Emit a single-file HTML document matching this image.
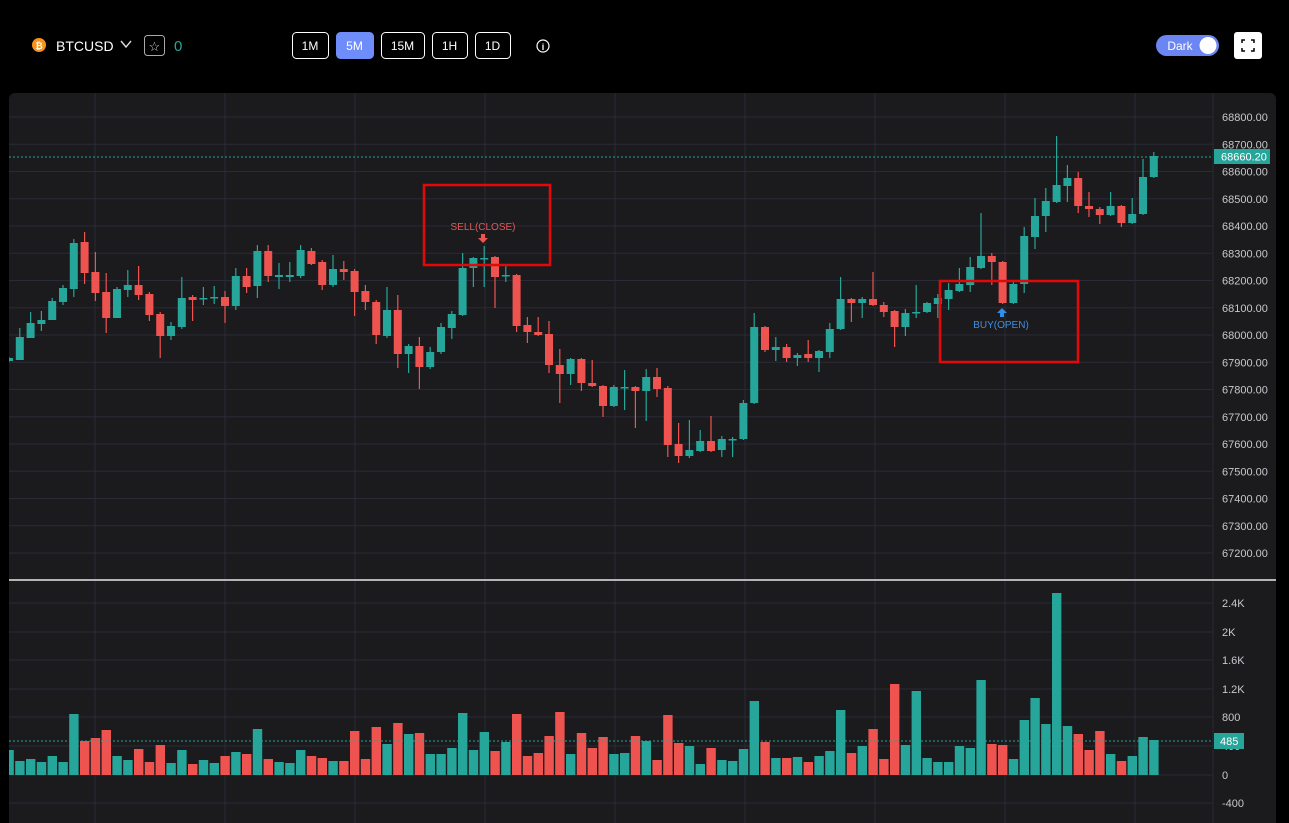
<!DOCTYPE html>
<html><head><meta charset="utf-8"><style>
html,body{margin:0;padding:0;background:#000;width:1289px;height:823px;overflow:hidden;font-family:"Liberation Sans",sans-serif}
svg{position:absolute;left:0;top:0}
</style></head><body>
<svg id="s" width="1289" height="823" xmlns="http://www.w3.org/2000/svg"></svg>
<script>
const C=[
['g',358,361,357,362],['g',337,360,328,360],['g',323,338,312,338],['g',320,324,311,331],['g',301,320,298,320],['g',288,302,285,305],
['g',243,289,239,297],['r',242,273,232,284],['r',272,293,252,301],['r',292,318,273,333],['g',289,318,287,318],['g',285,290,270,297],
['r',285,295,266,300],['r',294,315,292,321],['r',314,336,312,358],['g',326,336,322,340],['g',298,327,277,329],['r',297,300,295,321],
['g',298,299,287,305],['g',297,298,286,304],['r',297,306,291,323],['g',276,306,268,310],['r',276,287,268,293],['g',251,286,245,298],
['r',251,276,245,282],['g',275,277,263,289],['g',275,277,262,282],['g',250,276,245,278],['r',251,264,248,265],['r',262,285,260,290],
['g',269,285,255,287],['r',269,272,261,280],['r',271,292,269,316],['r',291,302,285,310],['r',302,335,300,344],['g',310,336,287,338],
['r',310,354,295,368],['g',346,354,344,373],['r',346,367,337,389],['g',352,367,347,369],['g',327,352,323,354],['g',314,328,311,339],
['g',268,315,253,316],['g',258,268,257,287],['g',258,259,246,287],['r',257,277,256,308],['g',275,276,266,282],['r',275,326,274,332],
['r',325,332,317,343],['r',332,335,317,336],['r',334,365,321,373],['r',365,374,349,403],['g',359,374,358,385],['r',359,383,358,391],
['r',383,386,360,387],['r',386,406,385,417],['g',387,406,385,407],['g',387,388,370,410],['r',387,391,386,428],['g',377,391,369,421],
['r',377,389,368,397],['r',388,445,386,457],['r',444,456,423,463],['g',450,456,420,458],['g',441,451,430,452],['r',441,451,416,452],
['g',439,450,436,457],['g',439,440,437,457],['g',403,439,400,440],['g',327,403,313,404],['r',327,350,326,352],['g',347,350,337,361],
['r',347,358,344,362],['g',355,358,353,366],['r',354,358,340,362],['g',351,358,350,372],['g',329,352,323,358],['g',299,329,277,330],
['r',299,303,298,322],['g',299,303,297,318],['r',299,305,272,306],['r',305,312,302,317],['r',311,327,310,347],['g',313,327,309,336],
['g',312,313,285,318],['g',303,312,302,313],['g',298,304,294,318],['g',290,299,283,310],['g',284,291,268,292],['g',267,285,257,292],
['g',256,268,213,269],['r',256,262,253,285],['r',262,303,261,304],['g',284,303,282,304],['g',236,284,227,293],['g',216,237,198,249],
['g',201,216,188,232],['g',185,202,136,203],['g',178,186,165,202],['r',178,206,172,213],['r',206,209,192,217],['r',209,215,207,224],
['g',206,215,192,216],['r',206,223,205,227],['g',214,223,198,224],['g',177,214,159,215],['g',156,177,152,178]];
const V=[750,761,759,762,756,762,714,741,738,730,756,760,749,762,745,763,750,764,760,763,756,752,754,729,759,762,763,750,756,758,761,761,731,759,727,744,723,734,733,754,754,748,713,750,732,751,742,714,756,753,736,712,754,733,748,737,754,753,736,741,760,715,743,746,764,748,760,761,749,701,742,758,758,757,762,756,751,710,753,746,729,759,684,745,691,758,762,762,746,748,680,744,745,759,720,698,724,593,726,734,750,731,754,761,756,737,740];
const G='#26a69a',R='#ef5350',GR='#2a2b38';
let h='<defs><clipPath id="cp"><rect x="9" y="93" width="1204" height="730"/></clipPath></defs>';
h+=`<circle cx="39" cy="45" r="7" fill="#f7931a"/><text x="39" y="49" font-size="9" fill="#fff" text-anchor="middle" font-weight="bold">₿</text>
<text x="56" y="51" font-size="14" fill="#fff">BTCUSD</text>
<path d="M121 41 L126 47 L131 41" stroke="#ddd" stroke-width="1.4" fill="none"/>
<rect x="144.5" y="35.5" width="20" height="20" rx="3" fill="none" stroke="#aaa"/>
<text x="154.5" y="51" font-size="13" fill="#ccc" text-anchor="middle">☆</text>
<text x="174" y="51" font-size="15" fill="#26a69a">0</text>`;
const B=[['1M',292,328],['5M',336,373],['15M',381,424],['1H',432,467],['1D',475,510]];
for(const [t,a,b] of B){const act=t=='5M';
h+=`<rect x="${a+.5}" y="32.5" width="${b-a}" height="26" rx="4" fill="${act?'#6f8dfa':'#000'}" stroke="${act?'#6f8dfa':'#fff'}"/><text x="${(a+b)/2}" y="50" font-size="12" fill="#fff" text-anchor="middle">${t}</text>`;}
h+=`<circle cx="543" cy="46" r="6" fill="none" stroke="#fff" stroke-width="1.2"/><text x="543" y="50" font-size="9" fill="#fff" text-anchor="middle" font-weight="bold">i</text>
<rect x="1156" y="35" width="63" height="21" rx="10.5" fill="#6b85f2"/><text x="1180" y="50" font-size="12" fill="#fff" text-anchor="middle">Dark</text><circle cx="1208" cy="45.5" r="8.5" fill="#fff"/>
<rect x="1234" y="32" width="28" height="27" rx="3" fill="#fff"/>
<path d="M1242 43v-3h3M1254 43v-3h-3M1242 48v3h3M1254 48v3h-3" stroke="#000" stroke-width="1.5" fill="none"/>`;
h+=`<path d="M9 823 V99 a6 6 0 0 1 6 -6 H1270 a6 6 0 0 1 6 6 V823Z" fill="#1b1b1d"/>`;
for(let k=0;k<17;k++){const y=117+k*27.25;h+=`<line x1="9" x2="1213" y1="${y}" y2="${y}" stroke="${GR}"/>`;
 h+=`<text x="1222" y="${y+4}" font-size="11" fill="#c8c8cc">${(68800-k*100).toFixed(2)}</text>`;}
[603,632,660,689,717,746,775,803].forEach((y,i)=>{h+=`<line x1="9" x2="1213" y1="${y}" y2="${y}" stroke="${GR}"/>`;
 const l=['2.4K','2K','1.6K','1.2K','800','400','0','-400'][i];h+=`<text x="1222" y="${y+4}" font-size="11" fill="#c8c8cc">${l}</text>`;});
[95,225,355,485,615,745,875,1005,1135].forEach(x=>{h+=`<line x1="${x}" x2="${x}" y1="93" y2="823" stroke="${GR}"/>`;});
h+=`<line x1="1213" x2="1213" y1="93" y2="823" stroke="#2a2a33"/>`;
h+=`<line x1="9" x2="1276" y1="580" y2="580" stroke="#e8e8e8" stroke-width="1.5"/>`;
h+='<g clip-path="url(#cp)">';
C.forEach((c,i)=>{const x=9+i*10.8,col=c[0]=='g'?G:R;
 h+=`<line x1="${x}" x2="${x}" y1="${c[3]}" y2="${c[4]}" stroke="${col}" stroke-width="1.2"/>`;
 h+=`<rect x="${x-4}" y="${c[1]}" width="8" height="${Math.max(1.5,c[2]-c[1])}" fill="${col}"/>`;
 h+=`<rect x="${x-4.6}" y="${V[i]}" width="9.4" height="${775-V[i]}" fill="${col}"/>`;});
h+='</g>';
h+=`<line x1="9" x2="1213" y1="157" y2="157" stroke="${G}" stroke-dasharray="2,2"/><rect x="1214" y="149" width="56" height="15" fill="${G}"/><text x="1221" y="160.5" font-size="11" fill="#fff">68660.20</text>`;
h+=`<line x1="9" x2="1213" y1="741" y2="741" stroke="${G}" stroke-dasharray="2,2"/><rect x="1214" y="733" width="30" height="16" fill="${G}"/><text x="1220" y="745" font-size="11" fill="#fff">485</text>`;
h+=`<rect x="424" y="185" width="126" height="80" fill="none" stroke="#e4080a" stroke-width="2.5"/>
<text x="483" y="230" font-size="10" fill="#e05a5a" text-anchor="middle">SELL(CLOSE)</text>
<path d="M481 234h4v4h3l-5 5-5-5h3z" fill="#ef5350"/>
<rect x="940" y="281" width="138" height="81" fill="none" stroke="#e4080a" stroke-width="2.5"/>
<path d="M1000 317h4v-4h3l-5-5-5 5h3z" fill="#2f8fe8"/>
<text x="1001" y="328" font-size="10" fill="#3d8fe0" text-anchor="middle">BUY(OPEN)</text>`;
document.getElementById('s').innerHTML=h;
</script>
</body></html>
